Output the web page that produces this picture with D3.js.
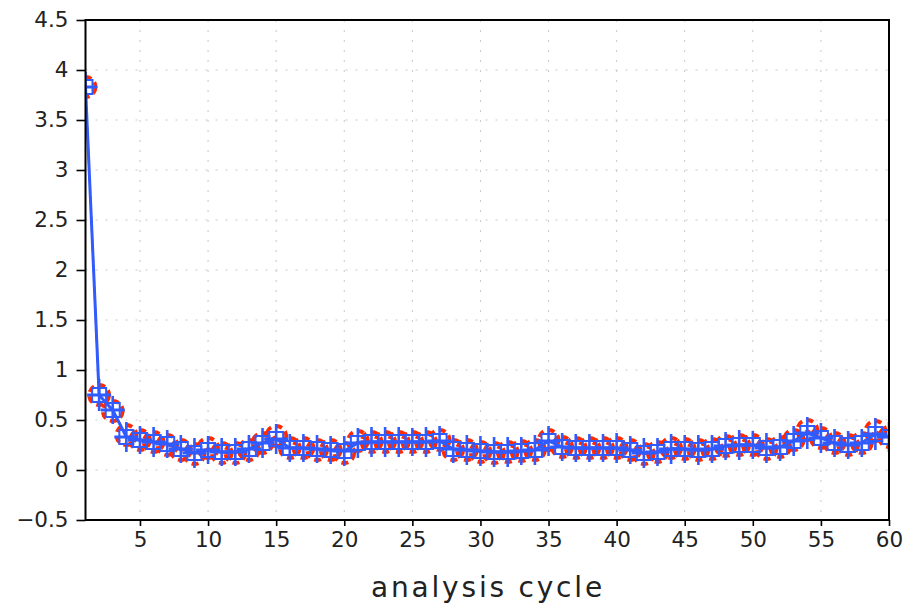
<!DOCTYPE html>
<html><head><meta charset="utf-8">
<script src="https://cdn.jsdelivr.net/npm/d3@7"></script>
<style>body{margin:0;background:#fff}svg{display:block}</style>
</head><body>
<svg id="c" width="904" height="605"></svg>
<script>
const cycles = d3.range(1, 61);
const redVals = [3.83,0.75,0.59,0.35,0.30,0.28,0.25,0.20,0.16,0.22,
                 0.17,0.17,0.20,0.27,0.34,0.22,0.22,0.20,0.20,0.17,
                 0.29,0.28,0.28,0.28,0.28,0.28,0.30,0.20,0.20,0.18,
                 0.17,0.18,0.19,0.20,0.30,0.23,0.22,0.22,0.22,0.22,
                 0.20,0.16,0.18,0.22,0.21,0.20,0.21,0.24,0.25,0.25,
                 0.21,0.23,0.30,0.40,0.32,0.27,0.25,0.27,0.39,0.33];
const blueVals = [3.83,0.75,0.60,0.33,0.30,0.28,0.26,0.21,0.17,0.20,
                  0.18,0.18,0.21,0.27,0.31,0.22,0.22,0.21,0.20,0.19,
                  0.27,0.28,0.28,0.28,0.28,0.28,0.29,0.21,0.20,0.19,
                  0.18,0.18,0.19,0.20,0.29,0.23,0.22,0.22,0.22,0.22,
                  0.20,0.17,0.18,0.21,0.21,0.20,0.21,0.24,0.25,0.25,
                  0.22,0.23,0.29,0.37,0.32,0.27,0.25,0.27,0.36,0.33];
const blueErr = [0.15,0.16,0.14,0.15,0.14,0.15,0.14,0.14,0.15,0.14,
                 0.14,0.14,0.14,0.15,0.15,0.14,0.14,0.14,0.14,0.15,
                 0.15,0.15,0.15,0.15,0.14,0.15,0.15,0.14,0.15,0.15,
                 0.15,0.15,0.14,0.15,0.15,0.14,0.14,0.14,0.14,0.15,
                 0.14,0.15,0.14,0.15,0.14,0.15,0.14,0.14,0.15,0.14,
                 0.15,0.14,0.15,0.16,0.15,0.14,0.14,0.14,0.16,0.15];
const xTicks = [5,10,15,20,25,30,35,40,45,50,55,60];
const yTicks = [-0.5,0,0.5,1,1.5,2,2.5,3,3.5,4,4.5];
const xTitle = "analysis cycle";

const svg = d3.select("#c");
const x = d3.scaleLinear().domain([1,60]).range([85.5,889]);
const y = d3.scaleLinear().domain([-0.5,4.5]).range([520,20]);

const fmt = v => v < 0 ? "\u2212" + Math.abs(v) : String(v);

// grid
const grid = svg.append("g").attr("stroke","#c8c8c8").attr("stroke-width",1).attr("stroke-dasharray","2,8");
grid.selectAll(".gx").data(xTicks.filter(t=>t<60)).join("line")
  .attr("x1",d=>x(d)).attr("x2",d=>x(d)).attr("y1",y(4.5)).attr("y2",y(-0.5));
grid.selectAll(".gy").data(yTicks.filter(t=>t>-0.5 && t<4.5)).join("line")
  .attr("x1",x(1)).attr("x2",x(60)).attr("y1",d=>y(d)).attr("y2",d=>y(d));

// axes
const fontF = "'DejaVu Sans', sans-serif";
const xAxis = svg.append("g").attr("transform",`translate(0,${y(-0.5)})`)
  .call(d3.axisBottom(x).tickValues(xTicks).tickSize(6).tickPadding(6).tickFormat(fmt));
const yAxis = svg.append("g").attr("transform",`translate(${x(1)},0)`)
  .call(d3.axisLeft(y).tickValues(yTicks).tickSize(9).tickPadding(8).tickFormat(fmt));
[xAxis,yAxis].forEach(a=>{
  a.select(".domain").remove();
  a.selectAll(".tick line").attr("stroke","#000").attr("stroke-width",1.6);
  a.selectAll(".tick text").attr("font-family",fontF).attr("font-size",21.5).attr("fill","#222");
});

const clip = svg.append("clipPath").attr("id","pc").append("rect")
  .attr("x",x(1)).attr("y",y(4.5)).attr("width",x(60)-x(1)).attr("height",y(-0.5)-y(4.5));
const pg = svg.append("g").attr("clip-path","url(#pc)");

// red series
const line = (vals) => d3.line().x((d,i)=>x(cycles[i])).y(d=>y(d))(vals);
pg.append("path").attr("d",line(redVals)).attr("fill","none")
  .attr("stroke","#ff2a00").attr("stroke-width",2).attr("stroke-dasharray","6,4");
pg.append("g").selectAll("circle").data(redVals).join("circle")
  .attr("cx",(d,i)=>x(cycles[i])).attr("cy",d=>y(d)).attr("r",10)
  .attr("fill","none").attr("stroke","#ff2a00").attr("stroke-width",3.8)
  .attr("stroke-dasharray","7,4.5");

// blue series
pg.append("path").attr("d",line(blueVals)).attr("fill","none")
  .attr("stroke","#2f5bff").attr("stroke-width",3);
const bm = pg.append("g").attr("stroke","#2f5bff").attr("fill","none");
bm.selectAll(".eb").data(blueVals).join("line")
  .attr("x1",(d,i)=>x(cycles[i])).attr("x2",(d,i)=>x(cycles[i]))
  .attr("y1",(d,i)=>y(d+blueErr[i])).attr("y2",(d,i)=>y(d-blueErr[i]))
  .attr("stroke-width",2.6);
bm.selectAll(".hb").data(blueVals).join("line")
  .attr("x1",(d,i)=>x(cycles[i])-12).attr("x2",(d,i)=>x(cycles[i])+12)
  .attr("y1",d=>y(d)).attr("y2",d=>y(d)).attr("stroke-width",3);
bm.selectAll(".sq").data(blueVals).join("rect")
  .attr("x",(d,i)=>x(cycles[i])-7).attr("y",d=>y(d)-7)
  .attr("width",14).attr("height",14).attr("stroke-width",2);

// frame
svg.append("rect").attr("x",x(1)).attr("y",y(4.5)).attr("width",x(60)-x(1)).attr("height",y(-0.5)-y(4.5))
  .attr("fill","none").attr("stroke","#000").attr("stroke-width",2);

// x title
svg.append("text").attr("x",488).attr("y",597).attr("text-anchor","middle")
  .attr("font-family",fontF).attr("font-size",28).attr("letter-spacing",2.8).attr("fill","#222")
  .text(xTitle);
</script>
</body></html>
